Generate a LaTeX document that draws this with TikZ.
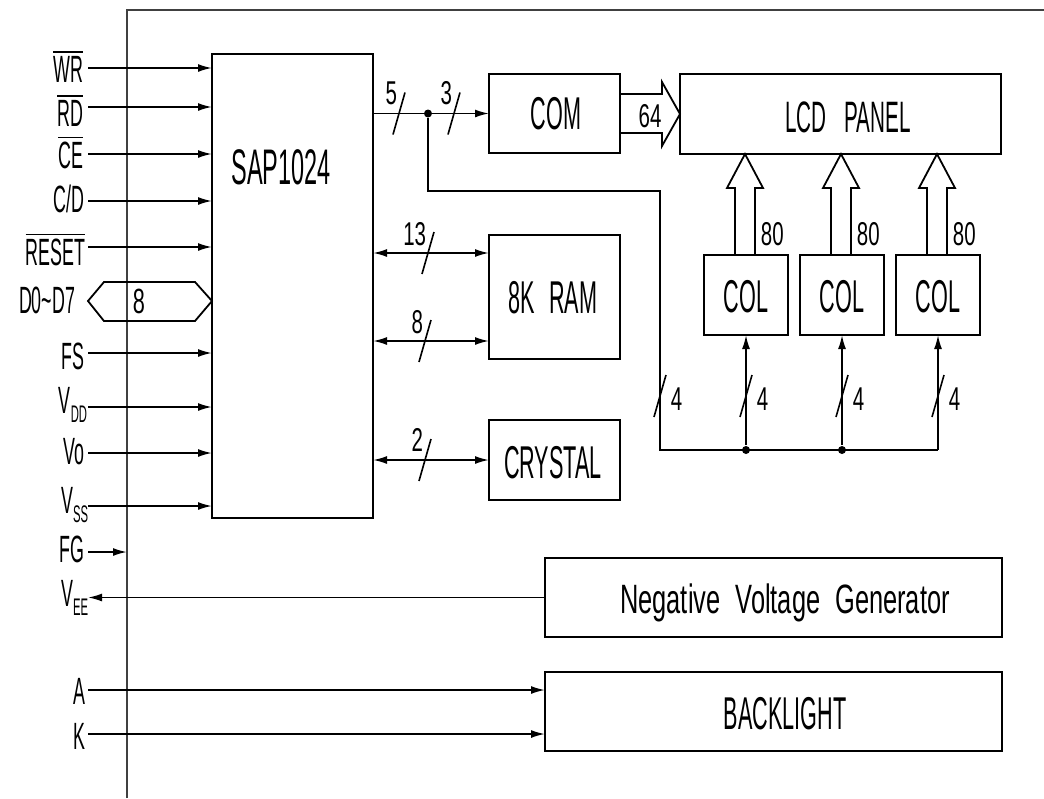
\documentclass[tikz,border=0pt]{standalone}
\usepackage{fontspec}
\setmainfont{Liberation Sans}
\newfontfamily\cad{Liberation Sans}[FakeStretch=0.47]
\newfontfamily\cadw{Liberation Sans}[FakeStretch=0.62]
\usetikzlibrary{arrows.meta}
\newcommand\ovbar[1]{\vbox{\hrule height 1.6pt\kern 3pt\hbox{#1}}}
\newcommand\sbs[1]{\raisebox{-9pt}{\fontsize{24}{24}\selectfont #1}}
\newcommand\busmark[2]{\draw[line width=1.6pt] (#1-6,#2+21) -- (#1+6,#2-21);}
\begin{document}
\begin{tikzpicture}[x=1pt,y=-1pt,line width=1.8pt,
 blk/.style={draw,rectangle,inner sep=0pt,outer sep=0pt},
 lbl/.style={font=\cad\fontsize{38}{38}\selectfont,anchor=base east,inner sep=0pt},
 big/.style={font=\cad\fontsize{46}{46}\selectfont,anchor=base,inner sep=0pt},
 num/.style={font=\cadw\fontsize{33}{33}\selectfont,inner sep=0pt},
 arr/.style={-{Latex[length=14pt,width=8pt]}},
 darr/.style={{Latex[length=14pt,width=8pt]}-{Latex[length=14pt,width=8pt]}},
 dot/.style={circle,fill,inner sep=0pt,minimum size=8pt},
 fat/.style={draw,line width=1.8pt,line join=miter}]
\useasboundingbox (0,0) rectangle (1044,798);
% frame
\coordinate (ftl) at (127,10);
\draw[line width=1.6pt,black!75] (127,798) -- (ftl) -- (1044,10);

% blocks
\node[blk,minimum width=161pt,minimum height=464pt] (sap) at (292.5,286) {};
\node[big,font=\cad\fontsize{50}{50}\selectfont] (tsap) at (281,184) {SAP1024};
\node[blk,minimum width=131pt,minimum height=79pt] (com) at (554.5,113.5) {};
\node[big] (tcom) at (556,129) {COM};
\node[blk,minimum width=131pt,minimum height=124pt] (ram) at (554.5,297) {};
\node[big] (tram) at (553,313) {8K\hspace{14pt}RAM};
\node[blk,minimum width=131pt,minimum height=80pt] (crystal) at (554.5,460) {};
\node[big] (tcry) at (553,478) {CRYSTAL};
\node[blk,minimum width=321pt,minimum height=80pt] (lcd) at (840.5,114) {};
\node[big,font=\cad\fontsize{44}{44}\selectfont] (tlcd) at (848,132) {LCD\hspace{18pt}PANEL};
\node[blk,minimum width=84pt,minimum height=80pt] (col1) at (746,295) {};
\node[blk,minimum width=84pt,minimum height=80pt] (col2) at (842,295) {};
\node[blk,minimum width=84pt,minimum height=80pt] (col3) at (938,295) {};
\node[big] (tcol1) at (746,312) {COL};
\node[big] (tcol2) at (842,312) {COL};
\node[big] (tcol3) at (938,312) {COL};
\node[blk,minimum width=457pt,minimum height=79pt] (nvg) at (773.5,597.5) {};
\node[font=\cadw\fontsize{41}{41}\selectfont,anchor=base,inner sep=0pt] (tnvg) at (785,613) {Negative\hspace{15pt}Voltage\hspace{15pt}Generator};
\node[blk,minimum width=457pt,minimum height=79pt] (bl) at (773.5,711.5) {};
\node[big] (tbl) at (785,729) {BACKLIGHT};

% left inputs
\coordinate (iwr) at (88,68);   \node[lbl] (lwr) at (84,82) {\ovbar{WR}};
\coordinate (ird) at (88,107);  \node[lbl] (lrd) at (84,126) {\ovbar{RD}};
\coordinate (ice) at (88,154);  \node[lbl] (lce) at (84,168) {\ovbar{CE}};
\coordinate (icd) at (88,201);  \node[lbl] (lcd2) at (85,212) {C/D};
\coordinate (irs) at (88,247);  \node[lbl] (lrs) at (86,265) {\ovbar{RESET}};
\coordinate (ifs) at (88,353);  \node[lbl] (lfs) at (85,369) {FS};
\coordinate (ivdd) at (88,407); \node[lbl] (lvdd) at (88,413) {V\sbs{DD}};
\coordinate (ivo) at (88,453);  \node[lbl] (lvo) at (85,464) {Vo};
\coordinate (ivss) at (88,506); \node[lbl] (lvss) at (89,513) {V\sbs{SS}};
\foreach \c in {iwr,ird,ice,icd,irs,ifs,ivdd,ivo,ivss}
  \draw[arr] (\c) -- (\c -| sap.west);
% data bus hexagon
\coordinate (dl) at (88,301);
\node[lbl] (ld) at (76,313) {D0\textasciitilde D7};
\draw (dl) -- (104,282) -- (195,282) -- (sap.west |- dl) -- (195,321) -- (104,321) -- cycle;
\node[num,font=\cadw\fontsize{35}{35}\selectfont,anchor=base] (d8) at (139,313) {8};
% FG
\coordinate (ifg) at (88,552);  \node[lbl] (lfg) at (85,562) {FG};
\draw[arr] (ifg) -- (ifg -| ftl);
% VEE
\coordinate (ovee) at (88,597.5); \node[lbl] (lvee) at (89,606) {V\sbs{EE}};
\draw[arr] (nvg.west) -- (ovee);
% A, K
\coordinate (ia) at (88,690); \node[lbl] (la) at (86,704) {A};
\coordinate (ik) at (88,734); \node[lbl] (lk) at (86,749) {K};
\draw[arr] (ia) -- (ia -| bl.west);
\draw[arr] (ik) -- (ik -| bl.west);

% top bus to COM
\coordinate (s1) at (sap.east |- com.west);
\node[dot] (j1) at (428,113.5) {};
\draw[arr] (s1) -- (com.west);
\busmark{399}{113.5} \node[num,anchor=base east] (n5) at (398,104) {5};
\busmark{454}{113.5} \node[num,anchor=base east] (n3) at (453,104) {3};

% branch to column drivers
\coordinate (b1) at (660,191);
\coordinate (b2) at (660,450);
\coordinate (b3) at (col3.south |- b2);
\draw (j1) |- (b1) -- (b2) -- (b3);
\node[dot] (j2) at (col1.south |- b2) {};
\node[dot] (j3) at (col2.south |- b2) {};
\draw[arr] (j2) -- (col1.south);
\draw[arr] (j3) -- (col2.south);
\draw[arr] (b3) -- (col3.south);
\busmark{660}{396} \node[num,anchor=base west] (n4a) at (670,410) {4};
\busmark{746}{396} \node[num,anchor=base west] (n4b) at (756,410) {4};
\busmark{842}{396} \node[num,anchor=base west] (n4c) at (852,410) {4};
\busmark{938}{396} \node[num,anchor=base west] (n4d) at (948,410) {4};

% RAM and CRYSTAL buses
\draw[darr] (sap.east |- 0,253) -- (ram.west |- 0,253);
\busmark{428}{253} \node[num,anchor=base east] (n13) at (427,245) {13};
\draw[darr] (sap.east |- 0,341) -- (ram.west |- 0,341);
\busmark{425}{341} \node[num,anchor=base east] (n8) at (424,333) {8};
\draw[darr] (sap.east |- crystal.west) -- (crystal.west);
\busmark{425}{460} \node[num,anchor=base east] (n2) at (424,451) {2};

% hollow wide arrows
\draw[fat] (com.east |- 0,94) -- (662,94) -- (662,82) -- (lcd.west) -- (662,146) -- (662,133) -- (com.east |- 0,133);
\node[num,anchor=base] (n64) at (650,127) {64};
\foreach \c/\n in {745/1,841/2,937/3}{
  \draw[fat] (\c-10,255) -- (\c-10,188) -- (\c-18,188) -- (\c,154) -- (\c+18,188) -- (\c+10,188) -- (\c+10,255);
  \node[num,anchor=base west] (n80\n) at (\c+15,245) {80};
}
\end{tikzpicture}
\end{document}
